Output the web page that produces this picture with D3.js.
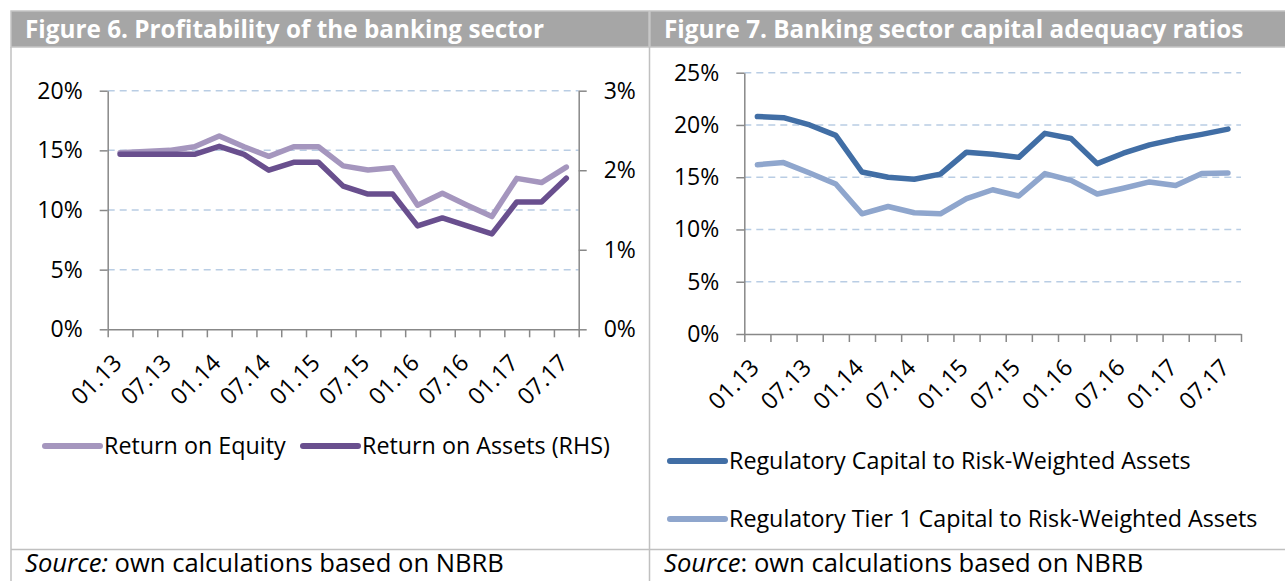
<!DOCTYPE html>
<html>
<head>
<meta charset="utf-8">
<script src="https://cdn.jsdelivr.net/npm/d3@7"></script>
<style>
body { margin: 0; background: #fff; }
svg { display: block; font-family: "Open Sans", sans-serif; }
.tick text { font-size: 23px; fill: #000; font-family: "Open Sans", sans-serif; }
.axis path, .axis line { stroke: #888; stroke-width: 1.5; }
.grid { stroke: #b9cde4; stroke-width: 1.5; stroke-dasharray: 7 5; }
.lbl { font-size: 23.3px; fill: #000; }
.src { font-size: 25.6px; fill: #000; }
.head { font-size: 24.3px; font-weight: bold; fill: #fff; }
</style>
</head>
<body>
<svg id="chart" width="1285" height="581"></svg>
<script>
// quarterly periods, labels shown every other one
const periods = ["01.13","04.13","07.13","10.13","01.14","04.14","07.14","10.14","01.15","04.15",
  "07.15","10.15","01.16","04.16","07.16","10.16","01.17","04.17","07.17"];

// Figure 6 (percent)
const roe = [14.8,14.9,15.0,15.3,16.2,15.3,14.5,15.3,15.3,13.7,13.35,13.55,10.4,11.4,10.4,9.45,12.65,12.3,13.6];
const roa = [2.2,2.2,2.2,2.2,2.3,2.2,2.0,2.1,2.1,1.8,1.7,1.7,1.3,1.4,1.3,1.2,1.6,1.6,1.9];
const fig6Ticks = [0,5,10,15,20];
const fig6RhsTicks = [0,1,2,3];

// Figure 7 (percent)
const capRatio = [20.8,20.7,20.0,19.0,15.5,15.0,14.8,15.3,17.4,17.2,16.9,19.2,18.7,16.3,17.3,18.1,18.65,19.1,19.6];
const tier1Ratio = [16.2,16.4,15.4,14.35,11.5,12.2,11.6,11.5,12.95,13.8,13.2,15.35,14.7,13.4,13.95,14.55,14.2,15.35,15.4];
const fig7Ticks = [0,5,10,15,20,25];

const colRoe = "#a596be", colRoa = "#694f8e";
const colCap = "#416ea5", colTier = "#8fa6cd";

const svg = d3.select('#chart');

// frame + headers
svg.append('rect').attr('x', 11).attr('y', 11).attr('width', 638).attr('height', 36)
  .attr('fill', '#a6a6a6').attr('stroke', '#c4c4c4').attr('stroke-width', 1.5);
svg.append('rect').attr('x', 650).attr('y', 11).attr('width', 640).attr('height', 36)
  .attr('fill', '#a6a6a6').attr('stroke', '#c4c4c4').attr('stroke-width', 1.5);
svg.append('text').attr('class', 'head').attr('x', 25).attr('y', 38)
  .text('Figure 6. Profitability of the banking sector');
svg.append('text').attr('class', 'head').attr('x', 664).attr('y', 38)
  .text('Figure 7. Banking sector capital adequacy ratios');

[[11, 47, 11, 581], [649.5, 47, 649.5, 581], [11, 549.5, 1285, 549.5]].forEach(l => {
  svg.append('line').attr('x1', l[0]).attr('y1', l[1]).attr('x2', l[2]).attr('y2', l[3])
    .attr('stroke', '#c0c0c0').attr('stroke-width', 1.5);
});

// source lines
const src1 = svg.append('text').attr('class', 'src').attr('x', 25).attr('y', 572);
src1.append('tspan').attr('font-style', 'italic').text('Source:');
src1.append('tspan').text(' own calculations based on NBRB');
const src2 = svg.append('text').attr('class', 'src').attr('x', 664).attr('y', 572);
src2.append('tspan').attr('font-style', 'italic').text('Source');
src2.append('tspan').text(': own calculations based on NBRB');

// category axis with boundary ticks and rotated labels
function catAxis(x0, x1, yBase) {
  const x = d3.scaleBand().domain(periods).range([x0, x1]);
  const xEdge = d3.scaleLinear().domain([0, periods.length]).range([x0, x1]);
  svg.append('g').attr('class', 'axis').attr('transform', `translate(0,${yBase})`)
    .call(d3.axisBottom(xEdge).tickValues(d3.range(periods.length + 1)).tickFormat('')
      .tickSize(8).tickSizeOuter(0));
  svg.append('g').selectAll('text')
    .data(periods.filter((d, i) => i % 2 === 0))
    .enter().append('text')
    .attr('class', 'lbl')
    .attr('text-anchor', 'end')
    .attr('transform', d => `translate(${x(d) + x.bandwidth() / 2 + 3},${yBase + 35}) rotate(-45)`)
    .text(d => d);
  return x;
}

function gridLines(y, ticks, x0, x1) {
  svg.append('g').selectAll('line')
    .data(ticks.filter(t => t > 0))
    .enter().append('line')
    .attr('class', 'grid')
    .attr('x1', x0).attr('x2', x1)
    .attr('y1', d => y(d)).attr('y2', d => y(d));
}

function drawLine(x, y, values, color) {
  const line = d3.line()
    .x((d, i) => x(periods[i]) + x.bandwidth() / 2)
    .y(d => y(d));
  svg.append('path')
    .attr('d', line(values))
    .attr('fill', 'none')
    .attr('stroke', color)
    .attr('stroke-width', 5.5)
    .attr('stroke-linejoin', 'round')
    .attr('stroke-linecap', 'round');
}

function legendItem(x, y, color, label) {
  svg.append('line').attr('x1', x).attr('x2', x + 55).attr('y1', y).attr('y2', y)
    .attr('stroke', color).attr('stroke-width', 6).attr('stroke-linecap', 'round');
  svg.append('text').attr('class', 'lbl').attr('x', x + 59).attr('y', y + 8).text(label);
}

// ---------- Figure 6 ----------
const f6x0 = 107.7, f6x1 = 578.7, f6top = 90.7, f6bot = 329.3;
const y6 = d3.scaleLinear().domain([0, 20]).range([f6bot, f6top]);
const y6r = d3.scaleLinear().domain([0, 3]).range([f6bot, f6top]);
gridLines(y6, fig6Ticks, f6x0, f6x1);
svg.append('g').attr('class', 'axis').attr('transform', `translate(${f6x0},0)`)
  .call(d3.axisLeft(y6).tickValues(fig6Ticks).tickFormat(d => d + '%').tickSize(8).tickSizeOuter(0).tickPadding(17));
svg.append('g').attr('class', 'axis').attr('transform', `translate(${f6x1},0)`)
  .call(d3.axisRight(y6r).tickValues(fig6RhsTicks).tickFormat(d => d + '%').tickSize(8).tickSizeOuter(0).tickPadding(17));
const x6 = catAxis(f6x0, f6x1, f6bot);
drawLine(x6, y6, roe, colRoe);
drawLine(x6, y6r, roa, colRoa);
legendItem(45, 446, colRoe, 'Return on Equity');
legendItem(303, 446, colRoa, 'Return on Assets (RHS)');

// ---------- Figure 7 ----------
const f7x0 = 744.3, f7x1 = 1241, f7top = 72.7, f7bot = 334;
const y7 = d3.scaleLinear().domain([0, 25]).range([f7bot, f7top]);
gridLines(y7, fig7Ticks, f7x0, f7x1);
svg.append('g').attr('class', 'axis').attr('transform', `translate(${f7x0},0)`)
  .call(d3.axisLeft(y7).tickValues(fig7Ticks).tickFormat(d => d + '%').tickSize(8).tickSizeOuter(0).tickPadding(17));
const x7 = catAxis(f7x0, f7x1, f7bot);
drawLine(x7, y7, capRatio, colCap);
drawLine(x7, y7, tier1Ratio, colTier);
legendItem(670, 461, colCap, 'Regulatory Capital to Risk-Weighted Assets');
legendItem(670, 519, colTier, 'Regulatory Tier 1 Capital to Risk-Weighted Assets');
</script>
</body>
</html>
